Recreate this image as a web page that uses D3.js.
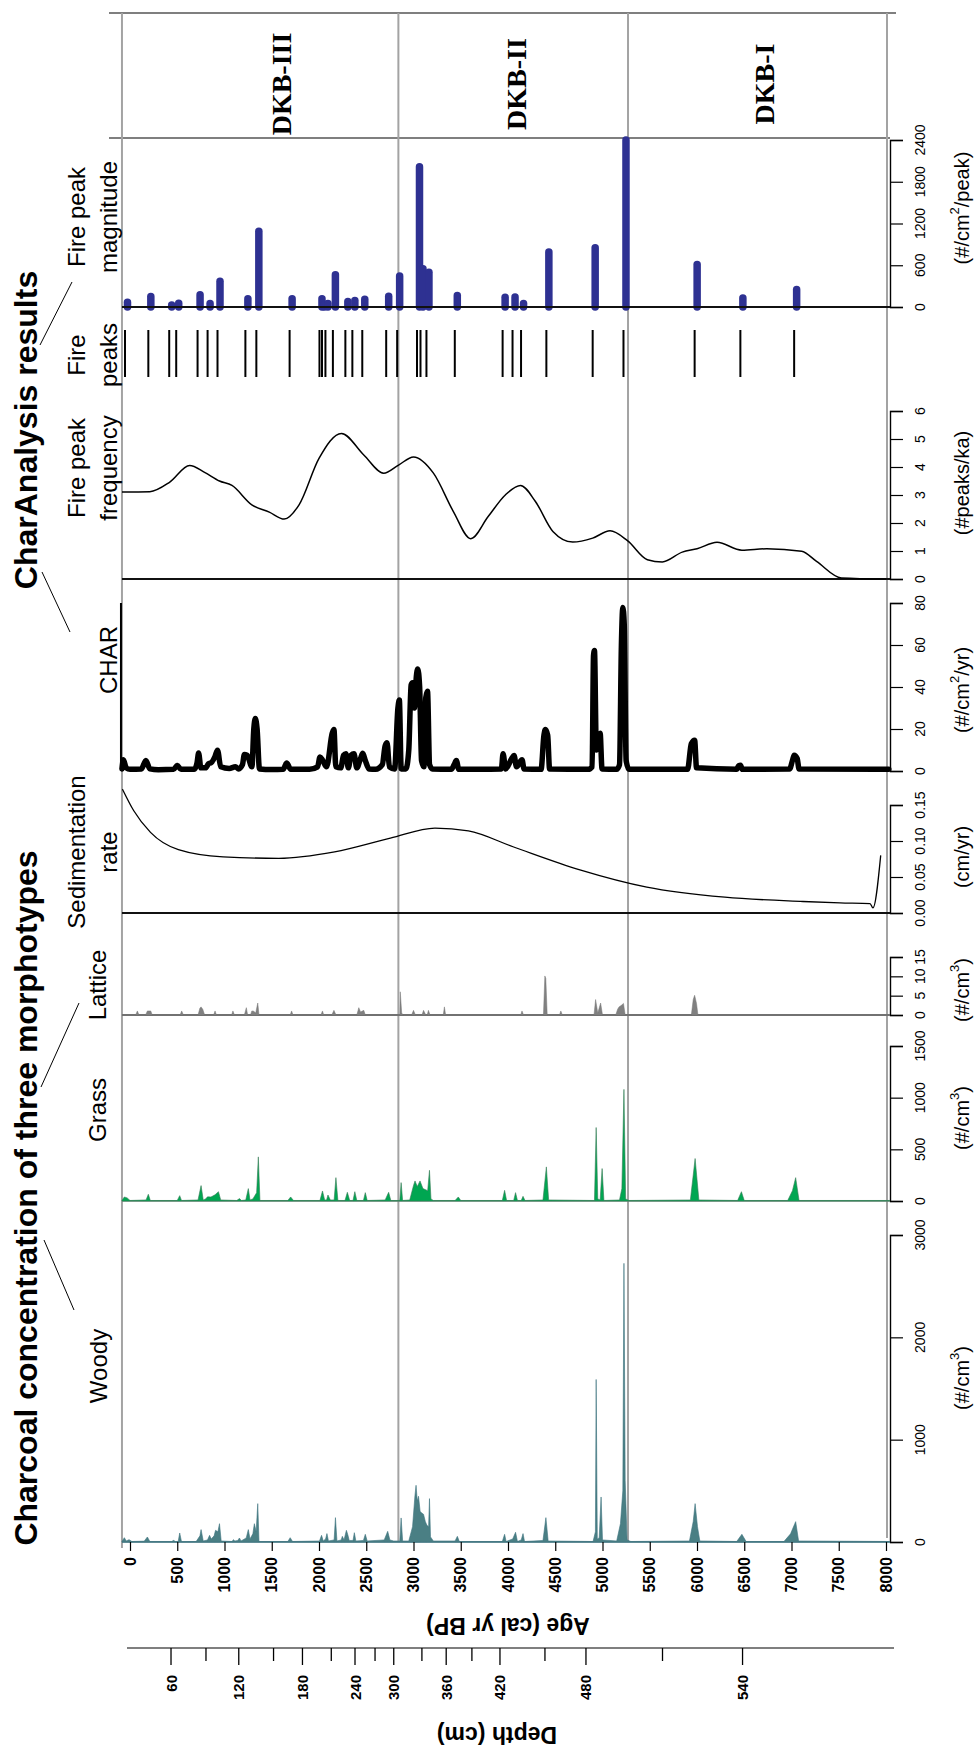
<!DOCTYPE html>
<html><head><meta charset="utf-8">
<script src="https://cdn.jsdelivr.net/npm/d3@7"></script>
<style>
body{margin:0;background:#fff}
svg{display:block}
text{font-family:"Liberation Sans",Arial,sans-serif;fill:#000}
</style>
</head><body>
<svg id="c" width="976" height="1748"></svg>
<script>
// ---------------- DATA ----------------
const zoneBounds = [2840, 5270];
const zoneNames = ["DKB-III", "DKB-II", "DKB-I"];
const zoneLabelAges = [1608, 4085, 6709];

const peakAges = [-53,194,415,489,715,821,926,1221,1337,1689,2005,2032,2068,2147,2279,2353,2458,2711,2827,3037,3074,3137,3437,3943,4048,4138,4406,4896,5222,5975,6459,7028];
const peakMags = [70,150,30,55,175,50,370,120,1090,120,120,40,50,465,80,95,110,155,445,2015,550,500,165,140,145,50,790,850,2400,610,130,250];

const freqAges = [-85,210,421,631,789,947,1079,1289,1474,1632,1789,2000,2237,2474,2684,2842,3000,3211,3422,3606,3790,3974,4132,4290,4475,4685,4896,5080,5264,5475,5633,5844,6001,6212,6475,6738,7107,7265,7528,8002];
const freqVals = [3.11,3.12,3.46,4.05,3.81,3.50,3.34,2.65,2.39,2.14,2.65,4.31,5.20,4.43,3.78,4.07,4.36,3.78,2.41,1.44,2.23,3.01,3.34,2.77,1.70,1.32,1.46,1.72,1.37,0.69,0.61,0.96,1.08,1.31,1.03,1.08,0.99,0.63,0.04,0];

const charSeries = [[-85,1],[-70,5.3],[-40,1.5],[0,0.8],[120,1],[168,5],[210,1],[300,0.6],[460,0.8],[500,2.6],[540,0.8],[680,0.8],[710,4],[726,8.6],[750,1.5],[800,1.5],[831,3.5],[860,4],[900,7],[926,9.9],[960,2],[1050,1.2],[1116,2],[1150,1],[1190,3],[1210,7.8],[1240,7.5],[1290,2],[1310,20],[1326,25],[1345,20],[1370,1],[1500,0.7],[1620,0.8],[1658,3.8],[1700,0.8],[1900,0.8],[1985,2],[2011,6.7],[2040,5],[2080,2],[2140,18],[2158,19.8],[2178,2],[2230,1.5],[2260,7.5],[2285,8.2],[2310,1.5],[2340,7.5],[2370,8.2],[2400,1.5],[2440,6],[2463,8.5],[2490,5],[2530,1],[2600,0.8],[2670,3],[2700,12],[2720,13.4],[2745,2],[2800,1],[2835,30],[2850,33.8],[2870,1],[2920,1],[2950,10],[2975,41],[2990,42],[3010,30],[3030,45],[3045,48.6],[3065,40],[3085,5],[3110,2],[3130,35],[3148,38],[3170,3],[3200,1],[3400,0.8],[3430,3],[3453,5],[3480,0.8],[3700,0.8],[3930,1],[3948,8.2],[3975,1],[4040,6],[4064,7.4],[4090,2],[4130,4.5],[4148,5.4],[4170,1],[4350,0.8],[4380,17],[4396,19.8],[4420,17],[4440,1],[4850,0.8],[4890,2],[4905,55],[4915,57.4],[4935,10],[4960,15],[4975,18],[4995,1],[5150,0.8],[5180,3],[5200,60],[5215,77.8],[5230,70],[5250,5],[5280,0.8],[5900,0.8],[5940,13],[5975,14.7],[5995,1.5],[6420,0.8],[6440,2.5],[6460,2.7],[6480,0.8],[6980,1],[7010,5],[7028,7.5],[7060,6],[7080,1],[8030,0.8]];

const sedSeries = [[-80,0.172],[40,0.142],[217,0.112],[512,0.088],[985,0.078],[1575,0.076],[2165,0.085],[2755,0.104],[3227,0.118],[3581,0.114],[4053,0.092],[4761,0.060],[5469,0.036],[6295,0.022],[7121,0.016],[7513,0.014],[7831,0.013],[7862,0.007],[7944,0.08]];

const latticeSeries = [[-85,0],[60,0],[78,1.05],[95,0],[165,0],[184,1.05],[202,1.05],[220,1.05],[235,0],[530,0],[547,1.05],[565,0],[720,0],[740,1.8],[752,2.1],[770,1.5],[790,0],[885,0],[900,1.05],[915,0],[1075,0],[1089,1.05],[1105,0],[1210,0],[1231,1.9],[1245,0],[1275,0],[1289,1.05],[1310,1],[1330,0.5],[1352,3.1],[1365,0],[1695,0],[1710,1.05],[1725,0],[2020,0],[2037,1.05],[2050,0],[2135,0],[2158,1.2],[2180,0],[2400,0],[2421,1.9],[2440,0.8],[2474,1.2],[2490,0],[2855,0],[2860,6.0],[2875,0.5],[2890,0],[2980,0],[3000,1.2],[3020,0],[3090,0],[3106,1.2],[3130,0],[3145,0],[3158,1.2],[3175,0],[3315,0],[3327,2.1],[3340,0],[4135,0],[4148,1.05],[4165,0],[4375,0],[4390,10.1],[4400,9.5],[4415,0],[4545,0],[4559,1.05],[4575,0],[4910,0],[4927,4.0],[4950,0.5],[4980,3.1],[5000,0],[5140,0],[5160,1.5],[5175,2.1],[5200,2.5],[5222,3.0],[5240,0],[5940,0],[5960,4],[5975,5.1],[5995,3],[6010,0],[8040,0]];

const grassSeries = [[-85,5],[-60,39],[-30,30],[0,5],[170,10],[194,65],[215,5],[500,5],[526,52],[545,5],[720,10],[752,149],[775,10],[800,20],[820,40],[857,39],[900,60],[936,90],[960,10],[1130,5],[1158,23],[1180,5],[1225,10],[1252,120],[1270,10],[1300,20],[1340,80],[1358,427],[1375,5],[1670,5],[1700,39],[1730,5],[2010,5],[2037,97],[2060,10],[2080,10],[2095,58],[2120,10],[2160,10],[2179,226],[2200,5],[2275,5],[2300,84],[2325,5],[2360,5],[2379,90],[2400,5],[2470,5],[2490,81],[2510,5],[2700,10],[2737,84],[2760,5],[2855,5],[2869,178],[2885,5],[2960,10],[3000,150],[3016,194],[3040,140],[3069,194],[3100,120],[3150,100],[3169,297],[3185,20],[3210,5],[3440,5],[3474,39],[3500,5],[3940,5],[3964,103],[3985,5],[4060,5],[4080,81],[4100,5],[4140,5],[4159,45],[4180,5],[4370,10],[4406,330],[4430,10],[4915,5],[4933,711],[4950,20],[4975,10],[4996,314],[5015,5],[5180,10],[5205,120],[5227,1080],[5245,20],[5280,5],[5930,10],[5980,411],[6020,10],[6430,5],[6470,90],[6500,5],[6960,5],[7010,100],[7044,226],[7080,5],[8040,5]];

const woodySeries = [[-85,5],[-60,42],[-40,10],[-10,23],[20,5],[150,8],[184,49],[210,5],[440,5],[463,16],[480,3],[510,5],[526,88],[545,3],[700,5],[740,60],[752,121],[775,10],[820,20],[842,65],[860,30],[890,60],[905,114],[930,100],[947,179],[965,10],[1080,5],[1094,23],[1110,10],[1140,15],[1158,39],[1175,10],[1230,40],[1252,121],[1270,30],[1300,80],[1316,179],[1335,100],[1352,375],[1365,5],[1670,5],[1695,42],[1720,5],[2005,10],[2027,65],[2045,10],[2070,30],[2084,82],[2100,10],[2160,20],[2174,238],[2190,10],[2235,20],[2247,55],[2265,20],[2290,114],[2305,70],[2320,15],[2360,15],[2374,91],[2390,10],[2470,15],[2490,75],[2510,10],[2690,20],[2727,104],[2750,20],[2790,10],[2855,10],[2869,235],[2885,10],[2950,10],[2990,150],[3015,450],[3027,554],[3040,400],[3053,447],[3070,300],[3090,280],[3106,271],[3125,200],[3142,163],[3160,150],[3169,424],[3180,50],[3210,10],[3440,10],[3464,55],[3485,5],[3940,5],[3964,75],[3980,5],[4050,30],[4080,95],[4100,5],[4140,20],[4159,82],[4175,5],[4370,15],[4401,238],[4425,10],[4900,5],[4925,100],[4933,1588],[4945,30],[4965,40],[4985,440],[5000,20],[5150,10],[5190,180],[5215,500],[5227,2723],[5240,600],[5260,20],[5300,5],[5920,10],[5960,200],[5980,375],[6005,150],[6030,10],[6420,5],[6475,75],[6520,5],[6920,5],[6990,80],[7044,199],[7075,10],[8040,5]];

const magTicks = [0,600,1200,1800,2400];
const freqTicks = [0,1,2,3,4,5,6];
const charTicks = [0,20,40,60,80];
const sedTicks = [0,0.05,0.10,0.15];
const latTicks = [0,5,10,15];
const grassTicks = [0,500,1000,1500];
const woodyTicks = [0,1000,2000,3000];
const ageTicks = [0,500,1000,1500,2000,2500,3000,3500,4000,4500,5000,5500,6000,6500,7000,7500,8000];
const depthValues = [60,90,120,150,180,210,240,270,300,330,360,390,420,450,480,510,540];
const depthAges = [434,804,1151,1519,1825,2130,2381,2593,2791,3089,3346,3618,3915,4391,4825,5635,6482];
const depthLabelled = [60,120,180,240,300,360,420,480,540];

// ---------------- LAYOUT ----------------
const svg = d3.select("#c");
const x = d3.scaleLinear().domain([0, 8000]).range([130, 886]);
const AGE_MIN = -85, AGE_MAX = 8040;
const AX = 890;
const FRAME_R = 887;
const TOP = 13, ZONE_B = 138, BASE = 1542;
const GREY = "#a3a3a3";

const yMag = d3.scaleLinear().domain([0,2400]).range([307,140]);
const yFreq = d3.scaleLinear().domain([0,6]).range([579,411]);
const yChar = d3.scaleLinear().domain([0,80]).range([771,603]);
const ySed = d3.scaleLinear().domain([0,0.15]).range([913,805]);
const yLat = d3.scaleLinear().domain([0,15]).range([1015,957]);
const yGrass = d3.scaleLinear().domain([0,1500]).range([1201,1046]);
const yWoody = d3.scaleLinear().domain([0,3000]).range([1542,1235]);
const PEAK_Y0 = 330, PEAK_Y1 = 377;

function vtext(g, px, py, str, o) {
  o = o || {};
  const t = g.append("text")
    .attr("transform", `translate(${px},${py}) rotate(${o.rot == null ? -90 : o.rot})`)
    .attr("text-anchor", o.anchor || "middle")
    .attr("dominant-baseline", "central")
    .style("font-size", (o.size || 14) + "px")
    .style("font-weight", o.weight || "normal");
  if (o.family) t.style("font-family", o.family);
  t.text(str);
  return t;
}
function unitText(g, px, py, pre, sup, post, size) {
  const t = g.append("text")
    .attr("transform", `translate(${px},${py}) rotate(-90)`)
    .attr("text-anchor", "middle").attr("dominant-baseline", "central")
    .style("font-size", size + "px");
  t.append("tspan").text(pre);
  if (sup) {
    t.append("tspan").attr("baseline-shift", "super").style("font-size", (size*0.65) + "px").text(sup);
    t.append("tspan").text(post);
  }
  return t;
}

const g = svg.append("g");

// ---------- frame & zone box ----------
g.append("line").attr("x1",109).attr("x2",896).attr("y1",TOP).attr("y2",TOP).attr("stroke","#555").attr("stroke-width",1.6);
g.append("line").attr("x1",109).attr("x2",AX).attr("y1",ZONE_B).attr("y2",ZONE_B).attr("stroke","#555").attr("stroke-width",1.6);
g.append("line").attr("x1",x(AGE_MIN)).attr("x2",x(AGE_MIN)).attr("y1",TOP).attr("y2",BASE+6).attr("stroke",GREY).attr("stroke-width",2);
g.append("line").attr("x1",FRAME_R).attr("x2",FRAME_R).attr("y1",TOP).attr("y2",BASE-4).attr("stroke",GREY).attr("stroke-width",2);
zoneBounds.forEach(a => g.append("line").attr("x1",x(a)).attr("x2",x(a)).attr("y1",TOP).attr("y2",BASE).attr("stroke",GREY).attr("stroke-width",2));
zoneNames.forEach((n,i) => vtext(g, x(zoneLabelAges[i]), 84, n, {size:28, weight:"bold", family:'"Liberation Serif","Times New Roman",serif'}));

// ---------- right axes ----------
function rightAxis(scale, majors, minorStep, fmt, labelX, size) {
  const dom = scale.domain();
  const minors = d3.range(dom[0], dom[1] + minorStep/2, minorStep);
  const ga = g.append("g").attr("transform", `translate(${AX},0)`);
  ga.call(d3.axisRight(scale).tickValues(minors).tickSize(5).tickFormat(""));
  ga.call(d3.axisRight(scale).tickValues(majors).tickSize(13).tickFormat(""));
  ga.selectAll(".domain").attr("stroke","#000").attr("stroke-width",1.4);
  ga.selectAll(".tick line").attr("stroke","#000").attr("stroke-width",1.2);
  majors.forEach(v => vtext(g, labelX, scale(v), fmt(v), {size: size || 14}));
}
const fInt = d => String(d);
rightAxis(yMag, magTicks, 200, fInt, 920);
rightAxis(yFreq, freqTicks, 0.2, fInt, 920);
rightAxis(yChar, charTicks, 4, fInt, 920);
rightAxis(ySed, sedTicks, 0.01, d3.format(".2f"), 920);
rightAxis(yLat, latTicks, 1, fInt, 920);
rightAxis(yGrass, grassTicks, 100, fInt, 920);
rightAxis(yWoody, woodyTicks, 200, fInt, 920);

unitText(g, 962, 208, "(#/cm", "2", "/peak)", 20);
unitText(g, 962, 483, "(#peaks/ka)", null, null, 20);
unitText(g, 962, 690, "(#/cm", "2", "/yr)", 20);
unitText(g, 962, 857, "(cm/yr)", null, null, 20);
unitText(g, 962, 990, "(#/cm", "3", ")", 20);
unitText(g, 962, 1118, "(#/cm", "3", ")", 20);
unitText(g, 962, 1378, "(#/cm", "3", ")", 20);

// ---------- baselines ----------
function baseline(y, color, w) {
  g.append("line").attr("x1",x(AGE_MIN)).attr("x2",AX).attr("y1",y).attr("y2",y).attr("stroke",color).attr("stroke-width",w);
}
baseline(yMag(0), "#111", 2);
baseline(yFreq(0), "#111", 2);
baseline(ySed(0), "#111", 2);
baseline(yLat(0), "#707070", 2);
baseline(yGrass(0), "#6f8f7f", 1.5);
baseline(yWoody(0), "#3f7480", 1.5);
g.append("line").attr("x1",x(AGE_MIN)-1).attr("x2",x(AGE_MIN)-1).attr("y1",yChar.range()[1]).attr("y2",yChar(0)).attr("stroke","#000").attr("stroke-width",2);

// ---------- woody ----------
g.append("path").datum(woodySeries)
  .attr("d", d3.area().x(d=>x(d[0])).y0(yWoody(0)).y1(d=>yWoody(d[1])))
  .attr("fill","#4a7f84").attr("stroke","#3e7480").attr("stroke-width",0.6);
// ---------- grass ----------
g.append("path").datum(grassSeries)
  .attr("d", d3.area().x(d=>x(d[0])).y0(yGrass(0)).y1(d=>yGrass(d[1])))
  .attr("fill","#00a651").attr("stroke","#357a55").attr("stroke-width",0.6);
// ---------- lattice ----------
g.append("path").datum(latticeSeries)
  .attr("d", d3.area().x(d=>x(d[0])).y0(yLat(0)).y1(d=>yLat(d[1])))
  .attr("fill","#808080").attr("stroke","#777").attr("stroke-width",0.5);
// ---------- sedimentation ----------
g.append("path").datum(sedSeries)
  .attr("d", d3.line().x(d=>x(d[0])).y(d=>ySed(d[1])).curve(d3.curveMonotoneX))
  .attr("fill","none").attr("stroke","#000").attr("stroke-width",1.3);
// ---------- CHAR ----------
g.append("path").datum(charSeries)
  .attr("d", d3.line().x(d=>x(d[0])).y(d=>yChar(d[1])).curve(d3.curveMonotoneX))
  .attr("fill","none").attr("stroke","#000").attr("stroke-width",5.5)
  .attr("stroke-linejoin","round").attr("stroke-linecap","round");
// ---------- frequency ----------
g.append("path").datum(freqAges.map((a,i)=>[a,freqVals[i]]))
  .attr("d", d3.line().x(d=>x(d[0])).y(d=>yFreq(d[1])).curve(d3.curveMonotoneX))
  .attr("fill","none").attr("stroke","#000").attr("stroke-width",1.5);
// ---------- fire peaks ----------
g.selectAll(".pk").data(peakAges).enter().append("line")
  .attr("x1",d=>x(d)).attr("x2",d=>x(d)).attr("y1",PEAK_Y0).attr("y2",PEAK_Y1)
  .attr("stroke","#000").attr("stroke-width",2);
// ---------- magnitude ----------
g.selectAll(".mg").data(peakAges).enter().append("line")
  .attr("x1",d=>x(d)+2.5).attr("x2",d=>x(d)+2.5)
  .attr("y1",yMag(0)).attr("y2",(d,i)=>yMag(peakMags[i]))
  .attr("stroke","#2e3192").attr("stroke-width",7.5).attr("stroke-linecap","round");
g.append("line").attr("x1",x(AGE_MIN)).attr("x2",AX).attr("y1",yMag(0)).attr("y2",yMag(0)).attr("stroke","#111").attr("stroke-width",2);

// ---------- age axis ----------
const gAge = g.append("g").attr("transform",`translate(0,${BASE})`);
gAge.call(d3.axisBottom(x).tickValues(d3.range(0,8001,100)).tickSize(5).tickFormat(""));
gAge.call(d3.axisBottom(x).tickValues(ageTicks).tickSize(9).tickFormat(""));
gAge.selectAll(".domain").remove();
gAge.selectAll(".tick line").attr("stroke","#000").attr("stroke-width",1.2);
ageTicks.forEach(v => vtext(g, x(v), 1557, String(v), {size:16, weight:"bold", anchor:"end"}));
vtext(g, x(4000), 1626, "Age (cal yr BP)", {size:23, weight:"bold", rot:180});

// ---------- depth axis ----------
const DY = 1648;
g.append("line").attr("x1",127).attr("x2",894).attr("y1",DY).attr("y2",DY).attr("stroke","#555").attr("stroke-width",1.6);
depthValues.forEach((dv,i) => {
  const lab = depthLabelled.includes(dv);
  g.append("line").attr("x1",x(depthAges[i])).attr("x2",x(depthAges[i]))
    .attr("y1",DY).attr("y2",DY + (lab ? 17 : 13)).attr("stroke","#000").attr("stroke-width",1.3);
  if (lab) vtext(g, x(depthAges[i]), 1675, String(dv), {size:15, weight:"bold", anchor:"end"});
});
vtext(g, 497, 1735, "Depth (cm)", {size:23, weight:"bold", rot:180});

// ---------- left labels ----------
const LBL = 24;
vtext(g, 76, 217, "Fire peak", {size:LBL}); vtext(g, 108, 217, "magnitude", {size:LBL});
vtext(g, 76, 355, "Fire", {size:LBL}); vtext(g, 108, 355, "peaks", {size:LBL});
vtext(g, 76, 468, "Fire peak", {size:LBL}); vtext(g, 108, 468, "frequency", {size:LBL});
vtext(g, 108, 660, "CHAR", {size:LBL});
vtext(g, 76, 852, "Sedimentation", {size:LBL}); vtext(g, 108, 852, "rate", {size:LBL});
vtext(g, 97, 985, "Lattice", {size:LBL});
vtext(g, 97, 1110, "Grass", {size:LBL});
vtext(g, 98, 1366, "Woody", {size:LBL});

vtext(g, 26, 430, "CharAnalysis results", {size:32, weight:"bold"});
vtext(g, 26, 1198, "Charcoal concentration of three morphotypes", {size:32, weight:"bold"});

function leader(x1,y1,x2,y2){ g.append("line").attr("x1",x1).attr("y1",y1).attr("x2",x2).attr("y2",y2).attr("stroke","#000").attr("stroke-width",1); }
leader(72,282,40,345);
leader(70,632,42,572);
leader(79,1003,41,1087);
leader(44,1240,74,1310);
</script>
</body></html>
